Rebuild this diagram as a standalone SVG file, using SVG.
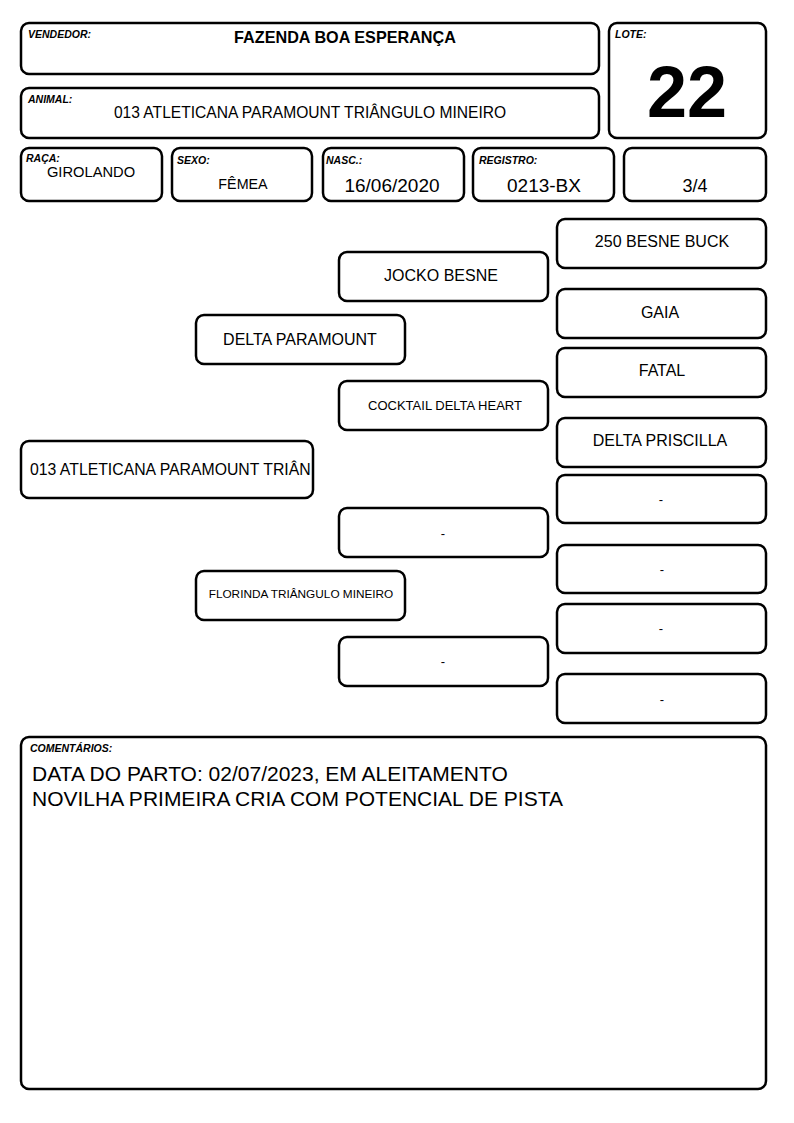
<svg xmlns="http://www.w3.org/2000/svg" width="794" height="1123" viewBox="0 0 794 1123">
<style>
.b{fill:#fff;stroke:#000;stroke-width:2.5}
.lb{font-family:"Liberation Sans",Arial,sans-serif;font-size:10.5px;font-weight:bold;font-style:italic;fill:#000}
.t{font-family:"Liberation Sans",Arial,sans-serif;fill:#000;text-anchor:middle}
.n{font-family:"Liberation Sans",Arial,sans-serif;fill:#000;text-anchor:middle;font-size:16px}
</style>
<rect width="794" height="1123" fill="#fff"/>
<g id="vendedor"><rect class="b" x="21" y="23" width="578" height="51" rx="8"/><text class="lb" x="28" y="38">VENDEDOR:</text><text class="t" x="345" y="43" font-size="16.2" font-weight="bold">FAZENDA BOA ESPERANÇA</text></g>
<g id="animal"><rect class="b" x="21" y="88" width="578" height="50" rx="8"/><text class="lb" x="28" y="103">ANIMAL:</text><text class="t" x="310" y="118" font-size="15.6">013 ATLETICANA PARAMOUNT TRIÂNGULO MINEIRO</text></g>
<g id="lote"><rect class="b" x="609" y="23" width="157" height="115" rx="8"/><text class="lb" x="615" y="38">LOTE:</text><text class="t" x="687" y="117" font-size="72" font-weight="bold">22</text></g>
<g id="raca"><rect class="b" x="21" y="148" width="141" height="53" rx="8"/><text class="lb" x="26" y="162">RAÇA:</text><text class="t" x="91" y="177" font-size="14.7">GIROLANDO</text></g>
<g id="sexo"><rect class="b" x="172" y="148" width="140" height="53" rx="8"/><text class="lb" x="177" y="164">SEXO:</text><text class="t" x="243" y="189" font-size="14.3">FÊMEA</text></g>
<g id="nasc"><rect class="b" x="323" y="148" width="141" height="53" rx="8"/><text class="lb" x="326" y="164">NASC.:</text><text class="t" x="392" y="192" font-size="19">16/06/2020</text></g>
<g id="registro"><rect class="b" x="473" y="148" width="141" height="53" rx="8"/><text class="lb" x="479" y="164">REGISTRO:</text><text class="t" x="544" y="192" font-size="19">0213-BX</text></g>
<g id="grau"><rect class="b" x="624" y="148" width="142" height="53" rx="8"/><text class="t" x="695" y="192" font-size="18">3/4</text></g>
<g id="connectors"></g>
<g id="p-animal"><rect class="b" x="21" y="441" width="292" height="57" rx="8"/><text x="30" y="475" font-family="'Liberation Sans',Arial,sans-serif" font-size="15.8">013 ATLETICANA PARAMOUNT TRIÂN</text></g>
<g id="pai"><rect class="b" x="196" y="315" width="209" height="49" rx="8"/><text class="n" x="300" y="345" font-size="16.2">DELTA PARAMOUNT</text></g>
<g id="mae"><rect class="b" x="196" y="571" width="209" height="49" rx="8"/><text class="t" x="301" y="598" font-size="11.8">FLORINDA TRIÂNGULO MINEIRO</text></g>
<g id="avo-pp"><rect class="b" x="339" y="252" width="209" height="49" rx="8"/><text class="n" x="441" y="281">JOCKO BESNE</text></g>
<g id="avo-pm"><rect class="b" x="339" y="381" width="209" height="49" rx="8"/><text class="t" x="445" y="410" font-size="13">COCKTAIL DELTA HEART</text></g>
<g id="avo-mp"><rect class="b" x="339" y="508" width="209" height="49" rx="8"/><text class="t" x="443" y="538" font-size="13">-</text></g>
<g id="avo-mm"><rect class="b" x="339" y="637" width="209" height="49" rx="8"/><text class="t" x="443" y="666" font-size="13">-</text></g>
<g id="b1"><rect class="b" x="557" y="219" width="209" height="49" rx="8"/><text class="n" x="662" y="247">250 BESNE BUCK</text></g>
<g id="b2"><rect class="b" x="557" y="289" width="209" height="49" rx="8"/><text class="n" x="660" y="318">GAIA</text></g>
<g id="b3"><rect class="b" x="557" y="348" width="209" height="49" rx="8"/><text class="n" x="662" y="376">FATAL</text></g>
<g id="b4"><rect class="b" x="557" y="418" width="209" height="49" rx="8"/><text class="n" x="660" y="446">DELTA PRISCILLA</text></g>
<g id="b5"><rect class="b" x="557" y="475" width="209" height="48" rx="8"/><text class="t" x="661" y="504" font-size="13">-</text></g>
<g id="b6"><rect class="b" x="557" y="545" width="209" height="48" rx="8"/><text class="t" x="662" y="574" font-size="13">-</text></g>
<g id="b7"><rect class="b" x="557" y="604" width="209" height="49" rx="8"/><text class="t" x="661" y="633" font-size="13">-</text></g>
<g id="b8"><rect class="b" x="557" y="674" width="209" height="49" rx="8"/><text class="t" x="662" y="704" font-size="13">-</text></g>
<g id="comentarios"><rect class="b" x="21" y="737" width="745" height="352" rx="8"/><text class="lb" x="30" y="752">COMENTÁRIOS:</text>
<text x="32" y="781" font-family="'Liberation Sans',Arial,sans-serif" font-size="21">DATA DO PARTO: 02/07/2023, EM ALEITAMENTO</text>
<text x="32" y="806" font-family="'Liberation Sans',Arial,sans-serif" font-size="21">NOVILHA PRIMEIRA CRIA COM POTENCIAL DE PISTA</text></g>
</svg>
